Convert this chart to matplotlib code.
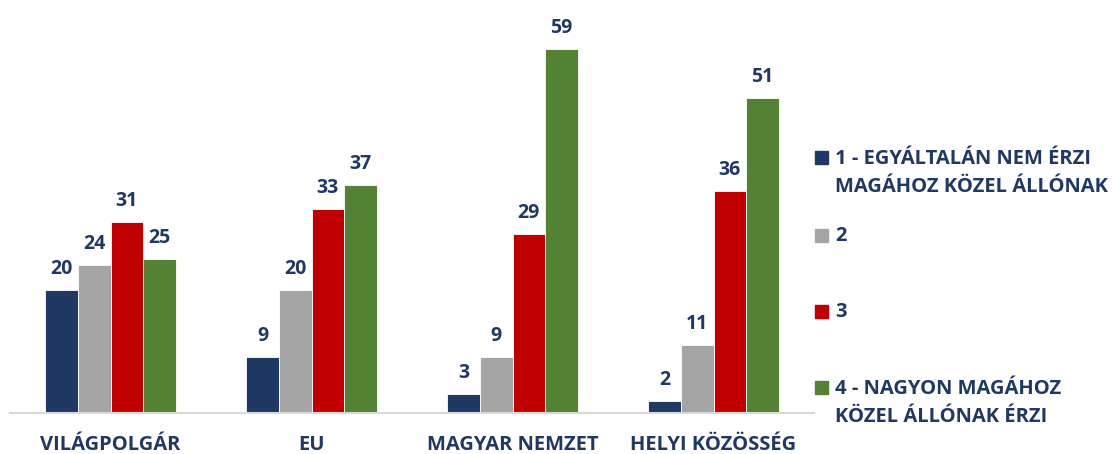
import numpy as np
import matplotlib.pyplot as plt
from matplotlib.patches import Rectangle

categories = ['VILÁGPOLGÁR', 'EU', 'MAGYAR NEMZET', 'HELYI KÖZÖSSÉG']
series_names = ['1 - EGYÁLTALÁN NEM ÉRZI\nMAGÁHOZ KÖZEL ÁLLÓNAK', '2', '3',
                '4 - NAGYON MAGÁHOZ\nKÖZEL ÁLLÓNAK ÉRZI']
s1 = [20, 9, 3, 2]
s2 = [24, 20, 9, 11]
s3 = [31, 33, 29, 36]
s4 = [25, 37, 59, 51]
colors = ['#203864', '#A5A5A5', '#C00000', '#548235']
txt_color = '#203864'

plt.rcParams['font.family'] = ['Open Sans', 'DejaVu Sans']
plt.rcParams['font.weight'] = 'bold'

fig = plt.figure(figsize=(11.13, 4.54), dpi=100)
ax = fig.add_axes([10/1113, 41/454, 804/1113, 401/454])

x = np.arange(len(categories))
w = 0.1617
for i, vals in enumerate([s1, s2, s3, s4]):
    bars = ax.bar(x + (i - 1.5) * w, vals, w, color=colors[i], edgecolor='white', linewidth=0.6)
    for b, v in zip(bars, vals):
        ax.annotate(str(v), (b.get_x() + b.get_width() / 2, v), xytext=(0, 8),
                    textcoords='offset points', ha='center', va='bottom',
                    fontsize=14, fontweight='bold', color=txt_color)

ax.set_xlim(-0.5, 3.5)
ax.set_ylim(0, 65)
for s in ['top', 'right', 'left']:
    ax.spines[s].set_visible(False)
ax.spines['bottom'].set_color('#D9D9D9')
ax.spines['bottom'].set_linewidth(1.5)
ax.set_yticks([])
ax.set_xticks(x)
ax.set_xticklabels(categories, fontsize=14.5, fontweight='bold', color=txt_color)
ax.tick_params(axis='x', length=0, pad=16)

# legend
leg_y = [158, 236, 312, 388]
for i, name in enumerate(series_names):
    y = 1 - leg_y[i] / 454
    fig.patches.append(Rectangle((815/1113, y - 6/454), 13/1113, 13/454,
                                 transform=fig.transFigure, color=colors[i]))
    fig.text(835/1113, y + (9/454 if '\n' in name else 0), name, ha='left',
             va='center' if '\n' not in name else 'top',
             fontsize=14.5, fontweight='bold', color=txt_color, linespacing=1.5)

fig.savefig('out.png', dpi=100)
